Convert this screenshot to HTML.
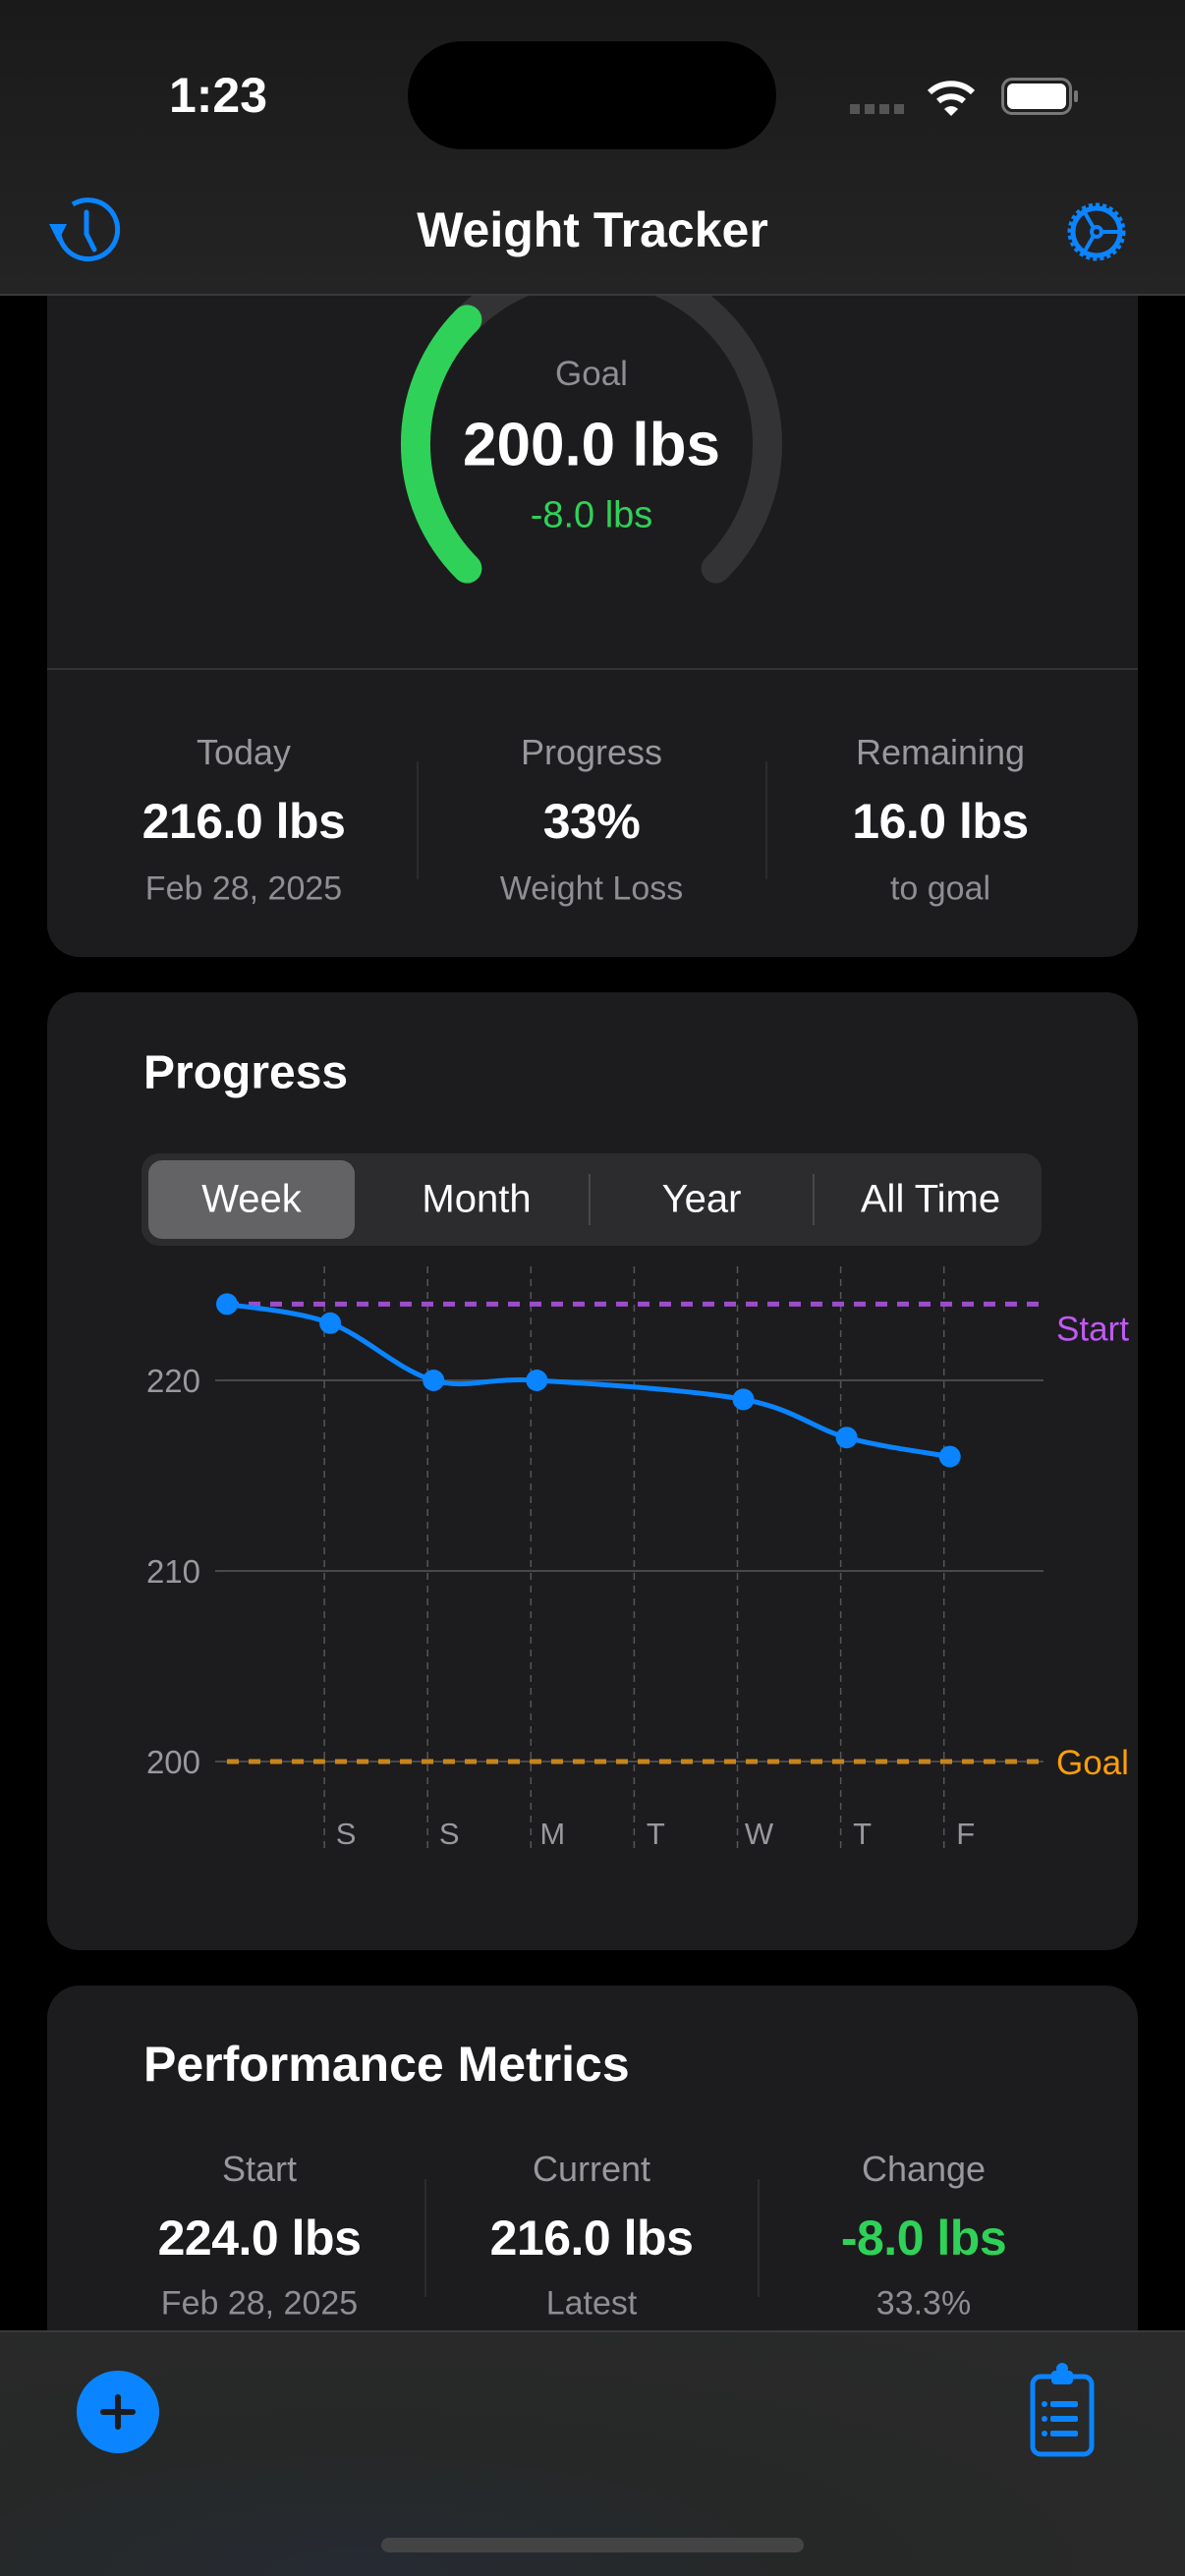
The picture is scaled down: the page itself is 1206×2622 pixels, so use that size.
<!DOCTYPE html>
<html><head><meta charset="utf-8">
<style>
*{margin:0;padding:0;box-sizing:border-box}
body{width:1206px;height:2622px;background:#000;position:relative;overflow:hidden;font-family:"Liberation Sans",sans-serif;color:#fff}
.abs{position:absolute}
.c{position:absolute;transform:translate(-50%,-50%);white-space:nowrap;text-align:center}
.l{position:absolute;transform:translateY(-50%);white-space:nowrap}
.card{position:absolute;background:#1c1c1e;border-radius:33px}
.gray{color:#8e8e93}
.lbl{font-size:36px;color:#98989d}
.val{font-size:50px;font-weight:bold;letter-spacing:-0.5px}
.sub{font-size:34px;color:#8e8e93}
.vdiv{position:absolute;width:2px;background:#2c2c2e}
</style></head><body>
<div class="card" style="left:48px;top:240px;width:1110px;height:734px"></div>
<svg class="abs" style="left:0;top:0" width="1206" height="980">
<path d="M475.4 578.6 A179 179 0 1 1 728.6 578.6" fill="none" stroke="#333336" stroke-width="30" stroke-linecap="round"/>
<path d="M475.4 578.6 A179 179 0 0 1 475.4 325.4" fill="none" stroke="#30d158" stroke-width="30" stroke-linecap="round"/>
</svg>
<div class="c gray" style="left:602px;top:381px;font-size:35px">Goal</div>
<div class="c" style="left:602px;top:453px;font-size:62px;font-weight:bold">200.0 lbs</div>
<div class="c" style="left:602px;top:525px;font-size:38px;color:#30d158">-8.0 lbs</div>
<div class="abs" style="left:48px;top:680px;width:1110px;height:2px;background:#333336"></div>
<div class="c lbl" style="left:248px;top:766px">Today</div>
<div class="c val" style="left:248px;top:836px">216.0 lbs</div>
<div class="c sub" style="left:248px;top:905px">Feb 28, 2025</div>
<div class="vdiv" style="left:424px;top:775px;height:120px"></div>
<div class="c lbl" style="left:602px;top:766px">Progress</div>
<div class="c val" style="left:602px;top:836px">33%</div>
<div class="c sub" style="left:602px;top:905px">Weight Loss</div>
<div class="vdiv" style="left:779px;top:775px;height:120px"></div>
<div class="c lbl" style="left:957px;top:766px">Remaining</div>
<div class="c val" style="left:957px;top:836px">16.0 lbs</div>
<div class="c sub" style="left:957px;top:905px">to goal</div>

<div class="card" style="left:48px;top:1010px;width:1110px;height:975px"></div>
<div class="l" style="left:146px;top:1092px;font-size:48px;font-weight:bold">Progress</div>
<div class="abs" style="left:144px;top:1174px;width:916px;height:94px;background:#2c2c2e;border-radius:18px"></div>
<div class="abs" style="left:151px;top:1181px;width:210px;height:80px;background:#636366;border-radius:14px"></div>
<div class="abs" style="left:599px;top:1195px;width:2px;height:52px;background:#48484a"></div>
<div class="abs" style="left:827px;top:1195px;width:2px;height:52px;background:#48484a"></div>
<div class="c" style="left:256px;top:1221px;font-size:40px">Week</div>
<div class="c" style="left:485px;top:1221px;font-size:40px">Month</div>
<div class="c" style="left:714px;top:1221px;font-size:40px">Year</div>
<div class="c" style="left:947px;top:1221px;font-size:40px">All Time</div>

<svg id="chart" class="abs" style="left:0;top:0" width="1206" height="1990"></svg>

<div class="card" style="left:48px;top:2021px;width:1110px;height:500px"></div>
<div class="l" style="left:146px;top:2101px;font-size:50px;font-weight:bold">Performance Metrics</div>
<div class="c lbl" style="left:264px;top:2208px">Start</div>
<div class="c val" style="left:264px;top:2278px">224.0 lbs</div>
<div class="c sub" style="left:264px;top:2345px">Feb 28, 2025</div>
<div class="vdiv" style="left:432px;top:2218px;height:120px"></div>
<div class="c lbl" style="left:602px;top:2208px">Current</div>
<div class="c val" style="left:602px;top:2278px">216.0 lbs</div>
<div class="c sub" style="left:602px;top:2345px">Latest</div>
<div class="vdiv" style="left:771px;top:2218px;height:120px"></div>
<div class="c lbl" style="left:940px;top:2208px">Change</div>
<div class="c val" style="left:940px;top:2278px;color:#30d158">-8.0 lbs</div>
<div class="c sub" style="left:940px;top:2345px">33.3%</div>

<div class="abs" style="left:0;top:2372px;width:1206px;height:250px;background:radial-gradient(ellipse at 30% 100%,#262b33 0%,#262827 40%,#2a2a2a 100%);border-top:2px solid #3a3a3c"></div>
<div class="abs" style="left:78px;top:2413px;width:84px;height:84px;border-radius:50%;background:#0a84ff"></div>
<div class="abs" style="left:102px;top:2452px;width:36px;height:6px;background:#1c1c1e;border-radius:3px"></div>
<div class="abs" style="left:117px;top:2437px;width:6px;height:36px;background:#1c1c1e;border-radius:3px"></div>
<svg class="abs" style="left:1046px;top:2405px" width="80" height="100">
<rect x="5" y="14" width="60" height="79" rx="8" fill="none" stroke="#0a84ff" stroke-width="5"/>
<rect x="24" y="8" width="22" height="14" rx="4" fill="#0a84ff"/><circle cx="35" cy="6" r="6" fill="#0a84ff"/>
<circle cx="17" cy="42" r="3" fill="#0a84ff"/><rect x="23" y="39" width="28" height="6" rx="2" fill="#0a84ff"/>
<circle cx="17" cy="57" r="3" fill="#0a84ff"/><rect x="23" y="54" width="28" height="6" rx="2" fill="#0a84ff"/>
<circle cx="17" cy="72" r="3" fill="#0a84ff"/><rect x="23" y="69" width="28" height="6" rx="2" fill="#0a84ff"/>
</svg>
<div class="abs" style="left:388px;top:2583px;width:430px;height:15px;border-radius:8px;background:#444"></div>

<div class="abs" style="left:0;top:0;width:1206px;height:301px;background:linear-gradient(#1a1a1a,#242424);border-bottom:2px solid #3a3a3c"></div>
<div class="c" style="left:222px;top:97px;font-size:50px;font-weight:bold">1:23</div>
<div class="abs" style="left:415px;top:42px;width:375px;height:110px;border-radius:55px;background:#000"></div>
<div class="abs" style="left:865px;top:106px;width:56px;height:10px;background:repeating-linear-gradient(90deg,#555 0 10px,transparent 10px 15px)"></div>
<svg class="abs" style="left:942px;top:78px" width="52" height="42">
<path d="M4 16 A32 32 0 0 1 48 16" stroke="#fff" stroke-width="6" fill="none"/><path d="M13 25 A20 20 0 0 1 39 25" stroke="#fff" stroke-width="6" fill="none"/><path d="M19 33 L26 40 L33 33 A10 10 0 0 0 19 33Z" fill="#fff"/></svg>
<div class="abs" style="left:1019px;top:79px;width:72px;height:38px;border:3px solid #777;border-radius:11px;padding:3px"><div style="width:100%;height:100%;background:#fff;border-radius:6px"></div></div>
<div class="abs" style="left:1093px;top:92px;width:4px;height:12px;background:#777;border-radius:2px"></div>
<svg class="abs" style="left:46px;top:198px" width="80" height="74">
<path d="M14 40 A30 30 0 1 0 28 10" stroke="#0a84ff" stroke-width="5" fill="none"/><path d="M4 30 L22 30 L13 48Z" fill="#0a84ff"/><path d="M42 18 V40 L50 56" stroke="#0a84ff" stroke-width="5" fill="none" stroke-linecap="round"/></svg>
<div class="c" style="left:603px;top:234px;font-size:50px;font-weight:bold">Weight Tracker</div>
<svg class="abs" style="left:1080px;top:200px" width="72" height="72">
<circle cx="36" cy="36" r="27" stroke="#0a84ff" stroke-width="5" fill="none" stroke-dasharray="4 3"/><circle cx="36" cy="36" r="24" stroke="#0a84ff" stroke-width="5" fill="none"/><circle cx="36" cy="36" r="5" stroke="#0a84ff" stroke-width="4" fill="none"/>
<path d="M41 36 H60 M33 32 L22 13 M33 40 L22 59" stroke="#0a84ff" stroke-width="4"/></svg>

<script>
const days=["","S","S","M","T","W","T","F"];
const pointIdx=[0,1,2,3,5,6,7];
const weights=[224,223,220,220,219,217,216];
const yTicks=[220,210,200];
const startWeight=224;
const goalWeight=200;
const NS="http://www.w3.org/2000/svg";
const svg=document.getElementById('chart');
function x(i){return 231+i*105.1;}
function y(v){return 1405-(v-220)*19.4;}
function mk(t,a){const e=document.createElementNS(NS,t);for(const k in a)e.setAttribute(k,a[k]);svg.appendChild(e);return e;}
yTicks.forEach(t=>{
 const g=mk('line',{x1:219,x2:1062,y1:y(t),y2:y(t),stroke:'#48484a','stroke-width':2});
 
 
 const tx=mk('text',{x:204,y:y(t)+12,'text-anchor':'end','font-size':33,fill:'#98989d','font-family':'Liberation Sans'});
 tx.textContent=t;
 
 
});
days.forEach((d,i)=>{
 if(i===0)return;
 const l=mk('line',{x1:x(i)-6,x2:x(i)-6,y1:1289,y2:1884,stroke:'#55555a','stroke-width':1.5,'stroke-dasharray':'7 6'});
 
 
 const tx=mk('text',{x:x(i)+16,y:1877,'text-anchor':'middle','font-size':31,fill:'#98989d','font-family':'Liberation Sans'});
 tx.textContent=d;
 
 
});
const sl=mk('line',{x1:x(0),x2:1062,y1:y(startWeight),y2:y(startWeight),stroke:'#9b4dca','stroke-width':5,'stroke-dasharray':'12 10'});


const st=mk('text',{x:1075,y:y(startWeight)+37,'font-size':35,fill:'#bf5af2','font-family':'Liberation Sans'});
st.textContent='Start';


const gl=mk('line',{x1:x(0),x2:1062,y1:y(goalWeight),y2:y(goalWeight),stroke:'#c8841c','stroke-width':5,'stroke-dasharray':'12 10'});


const gt=mk('text',{x:1075,y:y(goalWeight)+13,'font-size':35,fill:'#ff9f0a','font-family':'Liberation Sans'});
gt.textContent='Goal';


const pts=weights.map((w,k)=>[x(pointIdx[k]),y(w)]);
let d='M'+pts[0][0]+' '+pts[0][1];
for(let k=0;k<pts.length-1;k++){
 const p0=pts[Math.max(k-1,0)],p1=pts[k],p2=pts[k+1],p3=pts[Math.min(k+2,pts.length-1)];
 const c1=[p1[0]+(p2[0]-p0[0])/6,p1[1]+(p2[1]-p0[1])/6],c2=[p2[0]-(p3[0]-p1[0])/6,p2[1]-(p3[1]-p1[1])/6];
 d+=' C'+c1+' '+c2+' '+p2;
}
const line=mk('path',{d:d,fill:'none',stroke:'#0a84ff','stroke-width':5,'stroke-linejoin':'round'});


pts.forEach(p=>{
 const c=mk('circle',{cx:p[0],cy:p[1],r:11,fill:'#0a84ff'});
 
 
});
</script>
</body></html>
